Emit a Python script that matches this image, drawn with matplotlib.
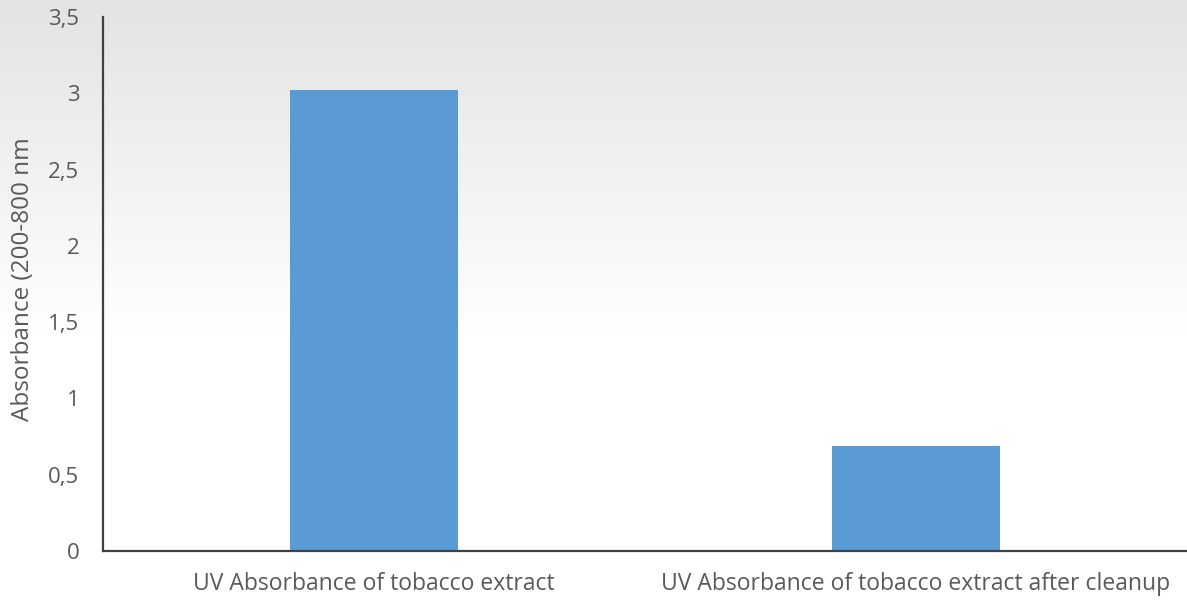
import numpy as np
import matplotlib.pyplot as plt

categories = ["UV Absorbance of tobacco extract",
              "UV Absorbance of tobacco extract after cleanup"]
absorbance = [3.02, 0.69]
yticks = [0, 0.5, 1, 1.5, 2, 2.5, 3, 3.5]
ytick_labels = ["0", "0,5", "1", "1,5", "2", "2,5", "3", "3,5"]

plt.rcParams['font.family'] = ['Open Sans', 'DejaVu Sans']
text_color = "#595959"

fig = plt.figure(figsize=(11.87, 6.01), dpi=100)

# soft grey-to-white gradient behind the chart
bg = fig.add_axes([0, 0, 1, 1], zorder=-10)
grad = np.linspace(0, 1, 256).reshape(-1, 1)
shade = np.clip(grad / 0.55, 0, 1)
top, bottom = np.array([0.89, 0.89, 0.89]), np.array([1.0, 1.0, 1.0])
img = top + (bottom - top) * shade[..., None]
bg.imshow(img, aspect='auto', extent=[0, 1, 0, 1], origin='upper')
bg.set_axis_off()

ax = fig.add_axes([103 / 1187, 1 - 551 / 601, 1084 / 1187, 534 / 601])
ax.patch.set_alpha(0)

x = np.arange(len(categories))
ax.bar(x, absorbance, width=0.31, color="#5B9BD5")

ax.set_xlim(-0.5, 1.5)
ax.set_ylim(0, 3.5)
ax.set_yticks(yticks)
ax.set_yticklabels(ytick_labels)
ax.set_xticks(x)
ax.set_xticklabels(categories)
ax.tick_params(axis='both', length=0, colors=text_color)
ax.tick_params(axis='y', labelsize=16, pad=17)
ax.tick_params(axis='x', labelsize=16.5, pad=15)

for side in ("top", "right"):
    ax.spines[side].set_visible(False)
for side in ("left", "bottom"):
    ax.spines[side].set_color("#404040")
    ax.spines[side].set_linewidth(1.6)

ax.set_ylabel("Absorbance (200-800 nm", fontsize=17.5, color=text_color)
ax.yaxis.set_label_coords(-0.063, 0.51)

fig.savefig("out.png", dpi=100)
